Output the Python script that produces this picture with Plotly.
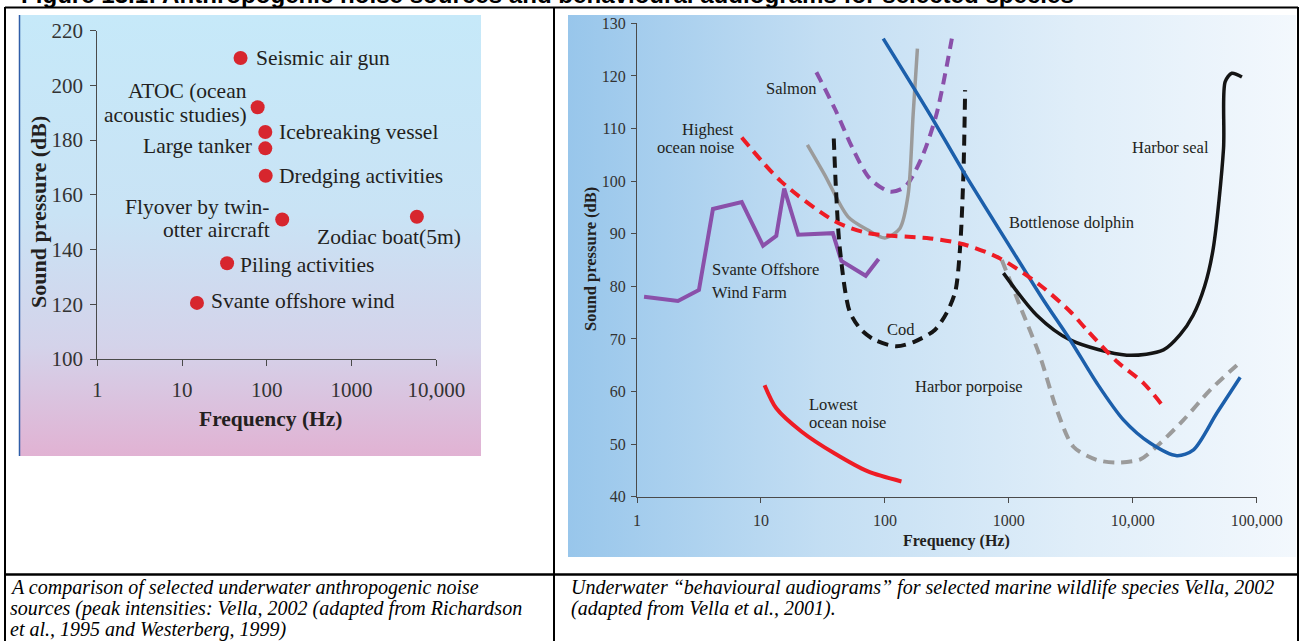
import numpy as np
import plotly.graph_objects as go

# ---------------- DATA ----------------
# Left chart: anthropogenic noise sources
src_labels = ["Seismic air gun", "ATOC (ocean<br>acoustic studies)", "Icebreaking vessel",
              "Large tanker", "Dredging activities", "Flyover by twin-<br>otter aircraft",
              "Zodiac boat(5m)", "Piling activities", "Svante offshore wind"]
src_freq = [49, 78, 96, 96, 97, 152, 5900, 34, 15]
src_db = [210, 192, 183, 177, 167, 151, 152, 135, 120.5]

left_xticks = [1, 10, 100, 1000, 10000]
left_xticklabels = ["1", "10", "100", "1000", "10,000"]
left_yticks = [100, 120, 140, 160, 180, 200, 220]

# Right chart: behavioural audiograms
svante_f = [1.14, 2.14, 3.16, 4.1, 7.0, 10.4, 13.3, 15.4, 20, 38, 44.6, 70, 89]
svante_db = [78.0, 77.2, 79.3, 94.7, 96.0, 87.7, 89.6, 98.6, 89.8, 90.1, 84.8, 82.0, 85.2]

salmon_f = [28, 39.4, 55, 75.5, 110, 145, 197, 260, 347]
salmon_db = [120.7, 113.8, 106.2, 100.5, 98.0, 98.9, 104.3, 112.6, 127.1]

grey_f = [23.7, 32.7, 50.5, 73, 100, 132, 154, 169, 183]
grey_db = [106.9, 101.2, 93.2, 90.7, 89.2, 91.0, 97.4, 112.6, 125.2]

highest_f = [7.0, 14.6, 39.4, 73, 232, 430, 850, 1790, 3125, 4260, 7450, 12200, 17700]
highest_db = [108.3, 99.9, 92.4, 90.1, 89.1, 88.0, 85.3, 80.2, 75.2, 71.7, 65.7, 61.6, 57.1]

cod_f = [38.7, 40.4, 43.3, 52, 64.6, 82.8, 124, 174, 253, 316, 370, 404, 430, 444]
cod_db = [108.1, 98.0, 87.2, 75.2, 71.7, 69.8, 68.6, 69.5, 71.7, 75.0, 79.0, 87.2, 101.2, 117.3]

dolphin_f = [97, 232, 430, 963, 1900, 3125, 5130, 8410, 13800, 22700, 30900, 47700, 73600]
dolphin_db = [127.1, 112.6, 101.8, 88.5, 77.4, 69.8, 61.6, 54.6, 50.2, 47.8, 48.9, 55.9, 62.7]

seal_f = [905, 1680, 3125, 8950, 17700, 24100, 30700, 38000, 44600, 54000, 55700, 63000, 76000]
seal_db = [82.5, 74.5, 69.8, 66.9, 67.9, 70.8, 74.5, 80.0, 87.2, 106.2, 118.9, 120.5, 119.8]

porpoise_f = [878, 1230, 1790, 2440, 3320, 5130, 7450, 11500, 15500, 25700, 42200, 69200]
porpoise_db = [85.0, 76.3, 66.6, 56.5, 49.5, 47.0, 46.5, 47.1, 49.5, 54.6, 60.3, 65.0]

lowest_f = [10.7, 13.3, 21.2, 39.4, 73, 136]
lowest_db = [61.2, 56.8, 52.4, 48.2, 44.8, 42.9]

right_xticks = [1, 10, 100, 1000, 10000, 100000]
right_xticklabels = ["1", "10", "100", "1000", "10,000", "100,000"]
right_yticks = [40, 50, 60, 70, 80, 90, 100, 110, 120, 130]

title_text = "Figure 13.1: Anthropogenic noise sources and behavioural audiograms for selected species"
cap_left = ["A comparison of selected underwater anthropogenic noise",
            "sources (peak intensities: Vella, 2002 (adapted from Richardson",
            "et al., 1995 and Westerberg, 1999)"]
cap_right = ["Underwater \u201cbehavioural audiograms\u201d for selected marine wildlife species Vella, 2002",
             "(adapted from Vella et al., 2001)."]

# ---------------- STYLE ----------------
W, H = 1300, 641
SERIF = "Liberation Serif"
TXT = "#231f20"
AX = "#4a4a4a"

fig = go.Figure()

# background layer (pixel coordinates)
fig.add_trace(go.Scatter(x=[19, 481, 481, 19, 19], y=[15, 15, 456, 456, 15], mode="lines",
                         fill="toself", line=dict(width=0), hoverinfo="skip", showlegend=False,
                         fillgradient=dict(type="vertical", start=15, stop=456,
                                           colorscale=[[0, "#c6e9f9"], [0.45, "#c9e3f5"],
                                                       [0.75, "#d4d3ea"], [1, "#e1b2d3"]]),
                         xaxis="x", yaxis="y"))
fig.add_trace(go.Scatter(x=[568, 1296, 1296, 568, 568], y=[15, 15, 557, 557, 15], mode="lines",
                         fill="toself", line=dict(width=0), hoverinfo="skip", showlegend=False,
                         fillgradient=dict(type="horizontal", start=568, stop=1296,
                                           colorscale=[[0, "#98c6eb"], [0.35, "#c3def3"],
                                                       [0.7, "#e0eef9"], [1, "#f3f8fd"]]),
                         xaxis="x", yaxis="y"))
# page title, clipped at the top edge of the page
fig.add_trace(go.Scatter(x=[21], y=[-3.5], mode="text", text=["<b>" + title_text + "</b>"],
                         textposition="middle right", cliponaxis=True, hoverinfo="skip",
                         textfont=dict(family="Liberation Sans", size=24.1, color="black"),
                         showlegend=False, xaxis="x", yaxis="y"))

# left chart markers
fig.add_trace(go.Scatter(x=src_freq, y=src_db, mode="markers",
                         marker=dict(size=14, color="#d7262e", line=dict(width=0)),
                         showlegend=False, xaxis="x2", yaxis="y2", cliponaxis=False))

# right chart curves
RED = "#ee1c25"
PURPLE = "#8a50aa"
GREY = "#9b9b9b"
BLACK = "#151515"
BLUE = "#1c5fab"
DASH = "11px,7px"


def curve(f, d, color, width=4, dash="solid", shape="spline"):
    fig.add_trace(go.Scatter(x=f, y=d, mode="lines",
                             line=dict(color=color, width=width, dash=dash, shape=shape,
                                       smoothing=0.8),
                             showlegend=False, xaxis="x3", yaxis="y3"))


curve(lowest_f, lowest_db, RED, 4)
curve(svante_f, svante_db, PURPLE, 4, shape="linear")
curve(salmon_f, salmon_db, PURPLE, 4, DASH)
curve(grey_f, grey_db, GREY, 3.5)
curve(cod_f, cod_db, BLACK, 4, DASH)
curve(porpoise_f, porpoise_db, GREY, 4, DASH)
curve(seal_f, seal_db, BLACK, 3.5)
curve(dolphin_f, dolphin_db, BLUE, 3.5)
curve(highest_f, highest_db, RED, 4, DASH)

tickfont_l = dict(family=SERIF, size=21, color="#333333")
tickfont_r = dict(family=SERIF, size=16, color="#333333")

axis_common = dict(showgrid=False, zeroline=False, showline=True, linecolor=AX, linewidth=1,
                   ticks="outside", tickcolor=AX, tickwidth=1, mirror=False, automargin=False)

fig.update_layout(
    width=W, height=H, autosize=False,
    margin=dict(l=0, r=0, t=0, b=0, pad=0, autoexpand=False),
    paper_bgcolor="white", plot_bgcolor="rgba(0,0,0,0)", showlegend=False,
    xaxis=dict(domain=[0, 1], range=[0, W], visible=False, fixedrange=True, automargin=False),
    yaxis=dict(domain=[0, 1], range=[H, 0], visible=False, fixedrange=True, automargin=False),
    xaxis2=dict(domain=[97.3 / W, 436.3 / W], type="log", range=[0, 4], anchor="y2",
                tickvals=left_xticks, ticktext=left_xticklabels, ticklen=6,
                tickfont=tickfont_l, ticklabelstandoff=6, **axis_common),
    yaxis2=dict(domain=[1 - 359 / H, 1 - 30.7 / H], range=[100, 220], anchor="x2",
                tickvals=left_yticks, ticklen=6, tickfont=tickfont_l, ticklabelstandoff=3,
                **axis_common),
    xaxis3=dict(domain=[637 / W, 1256.7 / W], type="log", range=[0, 5], anchor="y3",
                tickvals=right_xticks, ticktext=right_xticklabels, ticklen=5,
                tickfont=tickfont_r, ticklabelstandoff=4, **axis_common),
    yaxis3=dict(domain=[1 - 496.7 / H, 1 - 23.3 / H], range=[40, 130], anchor="x3",
                tickvals=right_yticks, ticklen=5, tickfont=tickfont_r, ticklabelstandoff=2,
                **axis_common),
)

ann = []

# left chart labels: (xanchor, xshift, yshifts per line)
left_label_style = [
    ("left", 13, [0]),
    ("right", -8.7, [16, -7.5]),
    ("left", 12, [0]),
    ("right", -11.3, [2]),
    ("left", 11.6, [0]),
    ("right", -10.3, [12, -11]),
    ("right", 45.7, [-20.3]),
    ("left", 11.3, [-2]),
    ("left", 11.7, [1.7]),
]
for lab, f, d, (xa, xs, ys) in zip(src_labels, src_freq, src_db, left_label_style):
    for line, yshift in zip(lab.split("<br>"), ys):
        ann.append(dict(x=np.log10(f), y=d, xref="x2", yref="y2", text=line, showarrow=False,
                        xanchor=xa, yanchor="middle", xshift=xs, yshift=yshift,
                        font=dict(family=SERIF, size=21.5, color=TXT)))

# left axis titles
ann.append(dict(x=271 / W, y=1 - 419 / H, xref="paper", yref="paper", text="<b>Frequency (Hz)</b>",
                showarrow=False, xanchor="center", yanchor="middle",
                font=dict(family=SERIF, size=21.5, color=TXT)))
ann.append(dict(x=38 / W, y=1 - 212 / H, xref="paper", yref="paper",
                text="<b>Sound pressure (dB)</b>", textangle=-90,
                showarrow=False, xanchor="center", yanchor="middle",
                font=dict(family=SERIF, size=22, color=TXT)))

# right chart labels: (text, freq, dB, xanchor)
right_labels = [
    ("Salmon", 28.9, 117.7, "right"),
    ("Highest", 6.3, 109.8, "right"),
    ("ocean noise", 6.3, 106.3, "right"),
    ("Svante Offshore", 3.86, 83.1, "left"),
    ("Wind Farm", 3.86, 78.9, "left"),
    ("Cod", 99.9, 71.7, "left"),
    ("Lowest", 23.6, 57.6, "left"),
    ("ocean noise", 23.6, 54.1, "left"),
    ("Harbor porpoise", 169, 60.9, "left"),
    ("Bottlenose dolphin", 964, 92.2, "left"),
    ("Harbor seal", 9530, 106.35, "left"),
]
for t, f, d, xa in right_labels:
    ann.append(dict(x=np.log10(f), y=d, xref="x3", yref="y3", text=t, showarrow=False,
                    xanchor=xa, yanchor="middle",
                    font=dict(family=SERIF, size=16.5, color=TXT)))

ann.append(dict(x=956 / W, y=1 - 541 / H, xref="paper", yref="paper", text="<b>Frequency (Hz)</b>",
                showarrow=False, xanchor="center", yanchor="middle",
                font=dict(family=SERIF, size=16, color=TXT)))
ann.append(dict(x=590 / W, y=1 - 259 / H, xref="paper", yref="paper",
                text="<b>Sound pressure (dB)</b>", textangle=-90,
                showarrow=False, xanchor="center", yanchor="middle",
                font=dict(family=SERIF, size=16.5, color=TXT)))

# captions
for i, line in enumerate(cap_left):
    ann.append(dict(x=8 / W, y=1 - (587 + 21 * i) / H, xref="paper", yref="paper", text=line,
                    showarrow=False, xanchor="left", yanchor="middle",
                    font=dict(family=SERIF, size=20, color="black", style="italic")))
for i, line in enumerate(cap_right):
    ann.append(dict(x=569 / W, y=1 - (587 + 21 * i) / H, xref="paper", yref="paper", text=line,
                    showarrow=False, xanchor="left", yanchor="middle",
                    font=dict(family=SERIF, size=20, color="black", style="italic")))

fig.update_layout(annotations=ann)

# table borders and left-edge line of left image
shapes = []


def pline(x0, y0, x1, y1, color="black", width=2):
    shapes.append(dict(type="line", xref="paper", yref="paper", x0=x0 / W, x1=x1 / W,
                       y0=1 - y0 / H, y1=1 - y1 / H, line=dict(color=color, width=width)))


pline(5, 7.5, 1298, 7.5)
pline(5, 7, 5, H)
pline(554, 7, 554, H)
pline(1298, 7, 1298, H)
pline(5, 574.5, 1298, 574.5, width=2.5)
pline(19.5, 15, 19.5, 456, color="#2f5ea8", width=1.5)
fig.update_layout(shapes=shapes)

fig.write_html("out.html", config={"displayModeBar": False, "staticPlot": True},
               post_script="document.body.style.margin='0';document.body.style.overflow='hidden';")
